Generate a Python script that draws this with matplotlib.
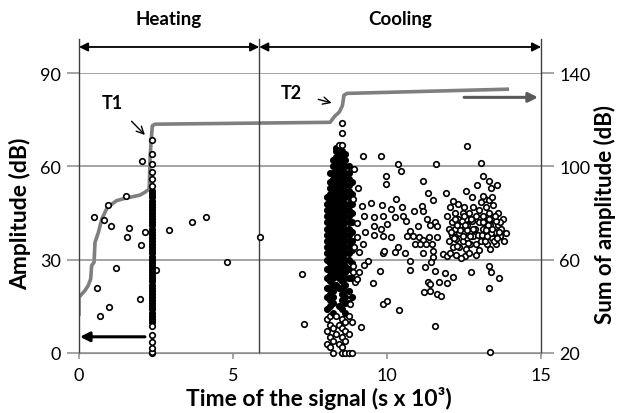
import numpy as np
import matplotlib
matplotlib.use("Agg")
from matplotlib import pyplot as plt

plt.rcParams['font.family'] = ['Lato', 'DejaVu Sans']

# Heating: sparse hits
heat_x = [0.50, 0.82, 0.95, 1.04, 1.52, 1.63, 1.55, 2.00, 2.14, 2.06, 1.20, 0.57, 0.98,
          0.68, 1.98, 2.92, 2.50, 3.67, 4.12, 4.80, 5.88]
heat_amp = [43.6, 42.7, 47.5, 40.7, 50.6, 40.2, 37.2, 34.8, 38.8, 61.6, 27.3, 20.8, 14.9,
            11.8, 17.4, 39.7, 26.8, 42.2, 43.6, 29.1, 37.2]

# Heating: column of hits at T1
heat_col_x = 2.36
heat_col_amp = [0, 0.4, 1.6, 3.6, 5.8, 8.8, 10, 11, 12, 13, 14, 15, 16, 17, 18, 19, 20,
                21, 22, 23, 24, 25, 26, 27, 28, 29, 30, 31, 32, 33, 34, 35, 36, 37, 38,
                39, 40, 41, 42, 43, 44, 45, 46, 47, 48, 49, 50, 51, 52, 53.7, 56, 58.2,
                60.7, 64, 68.6]

# Cooling: column of hits at T2 (sub-columns)
cool_col_x = [8.05, 8.15, 8.25, 8.35, 8.45, 8.55, 8.65, 8.75, 8.85]
cool_col_amp = [
    [3, 7, 11, 14, 18, 21, 24, 27, 30, 32, 34, 36, 38, 40, 42, 44, 46, 48, 50],
    [2, 5, 9, 12, 15, 17, 19, 21, 23, 25, 27, 29, 31, 33, 35, 37, 39, 41, 43, 45, 47, 49,
     51, 53, 55, 58],
    [0, 4, 8, 13, 16, 18, 20, 22, 24, 26, 28, 30, 32, 34, 36, 38, 40, 42, 44, 46, 48, 50,
     52, 54, 56, 58, 60, 62],
    [6, 12, 22, 25, 27, 29, 31, 33, 35, 37, 39, 41, 43, 45, 47, 49, 51, 53, 55, 57, 59, 61,
     63, 65, 66],
    [3, 9, 15, 21, 24, 26, 28, 30, 32, 34, 36, 38, 40, 42, 44, 46, 48, 50, 52, 54, 56, 58,
     60, 62, 64, 67],
    [0, 2, 5, 8, 11, 14, 17, 19, 21, 23, 25, 27, 29, 31, 33, 35, 37, 39, 41, 43, 45, 47, 49,
     51, 53, 55, 57, 59, 61, 63, 65, 67, 70.7, 74],
    [0, 4, 7, 10, 13, 16, 18, 20, 22, 24, 26, 28, 30, 32, 34, 36, 38, 40, 42, 44, 46, 48,
     50, 52, 54, 56, 58, 60, 62, 64],
    [0, 6, 12, 16, 20, 24, 27, 30, 32, 34, 36, 38, 40, 42, 44, 46, 48, 50, 52, 54, 56, 58,
     60],
    [0, 10, 18, 24, 29, 33, 36, 39, 42, 45, 48, 51, 55],
]

# Cooling: scattered hits after T2
cool_x = [7.23, 7.30, 9.21, 9.81, 8.94, 9.97, 9.97, 9.05, 8.90, 9.20, 9.47, 9.83, 9.26,
          9.56, 9.88, 9.02, 9.59, 9.80, 9.29, 9.56, 9.03, 9.86, 9.23, 8.93, 9.10, 9.86,
          9.39, 9.25, 8.90, 8.90, 9.09, 8.96, 9.77, 9.53, 9.02, 9.88, 9.99, 9.15, 8.80,
          10.34, 10.44, 11.59, 12.61, 11.18, 11.32, 11.48, 11.92, 12.56, 10.29, 10.12,
          10.48, 10.89, 11.12, 11.18, 9.99, 10.26, 10.51, 10.62, 11.00, 11.29, 11.40,
          11.54, 11.61, 10.73, 10.84, 10.64, 10.13, 11.05, 11.16, 11.37, 11.61, 10.91,
          11.07, 11.27, 11.45, 10.37, 9.90, 10.26, 10.58, 11.18, 11.50, 11.50, 11.83,
          11.93, 10.73, 10.75, 11.23, 11.43, 11.56, 11.88, 12.13, 11.67, 11.93, 11.32,
          11.40, 11.21, 11.40, 11.63, 11.75, 10.39, 11.56, 13.04, 13.13, 12.93, 13.32,
          13.36, 13.56, 13.18, 13.32, 13.04, 12.89, 12.53, 12.72, 13.32, 13.36, 13.63,
          13.32, 13.34]
cool_amp = [25.4, 9.3, 63.2, 63.2, 59.1, 57.0, 54.3, 52.9, 49.5, 47.3, 48.1, 47.6, 43.9,
            43.6, 44.1, 41.8, 40.9, 39.9, 38.8, 37.9, 37.3, 37.7, 35.0, 34.0, 32.4, 32.3,
            29.7, 28.3, 28.0, 26.0, 26.0, 22.8, 26.5, 22.5, 23.8, 15.7, 16.8, 8.3, 15.7,
            60.8, 58.6, 60.8, 66.6, 55.4, 51.3, 49.3, 51.6, 52.2, 49.5, 46.3, 46.8, 45.7,
            47.3, 45.7, 41.5, 43.6, 43.9, 42.5, 40.9, 43.1, 41.1, 42.0, 40.9, 39.3, 37.5,
            37.7, 37.2, 37.2, 36.4, 37.2, 37.2, 35.0, 35.0, 35.0, 35.0, 34.0, 32.9, 32.4,
            32.1, 32.1, 32.9, 30.8, 31.8, 31.3, 29.7, 26.8, 27.5, 29.1, 26.3, 25.7, 24.3,
            22.9, 22.5, 22.7, 22.2, 19.5, 20.0, 19.0, 18.2, 13.9, 8.8, 61.1, 57.0, 54.0,
            55.4, 53.2, 54.0, 49.5, 49.3, 48.4, 31.5, 31.3, 25.9, 27.9, 26.1, 24.1, 20.8,
            0.4]

# Cooling: cluster between 12 and 14 x 10^3 s
clus_x = [11.95, 12.0, 12.0, 12.05, 12.1, 12.1, 12.15, 12.2, 12.2, 12.25, 12.3, 12.3,
          12.35, 12.35, 12.4, 12.45, 12.45, 12.5, 12.5, 12.55, 12.55, 12.6, 12.6, 12.65,
          12.7, 12.7, 12.75, 12.8, 12.8, 12.85, 12.9, 12.9, 12.95, 13.0, 13.0, 13.05,
          13.1, 13.1, 13.15, 13.2, 13.2, 13.25, 13.3, 13.3, 13.35, 13.4, 13.45, 13.45,
          13.5, 13.55, 13.6, 13.6, 13.65, 13.7, 13.75, 13.8, 13.85, 12.05, 12.25, 12.4,
          12.65, 13.0, 13.35, 12.15, 12.75, 13.1, 13.4,
          12.08, 12.18, 12.28, 12.38, 12.48, 12.58, 12.68, 12.78, 12.28, 12.42, 12.52,
          12.62, 12.72, 13.08, 13.18, 13.28, 13.38, 13.48, 13.58, 13.68, 13.12, 13.22,
          13.32, 13.42, 13.52, 13.62, 12.22, 12.5, 13.25, 13.5]
clus_amp = [44, 40, 36, 47, 42, 38, 34, 45, 40, 36.5, 43, 48, 38.5, 34, 41, 45, 36, 39,
            47, 43, 33.5, 37, 41, 45, 39, 35, 42.5, 47, 37.5, 40, 44, 35, 38, 42, 46, 36,
            40, 44, 38, 47, 42, 35, 39, 45, 41, 37, 43, 47.5, 39, 35, 41, 45, 37.5, 40,
            43, 36, 38.5, 32, 31.5, 30.5, 32, 33, 33.5, 49, 50, 50.5, 50,
            39, 37, 41, 39.5, 37.5, 39.5, 37.5, 40, 34.5, 42.5, 41, 35.5, 43, 38, 36,
            41, 38.5, 36, 37, 42, 42, 39.5, 43, 40, 42.5, 39, 43, 44, 37.5, 44]

# Sum of amplitude (right axis)
cum_x = [0.0, 0.0, 0.19, 0.30, 0.38, 0.41, 0.49, 0.52, 0.63, 0.74, 0.79, 0.92, 1.22,
         1.49, 1.98, 2.14, 2.28, 2.31, 2.34, 2.38, 2.47, 8.15, 8.30, 8.45, 8.55, 8.60,
         8.70, 13.90]
cum_db = [36.7, 43.9, 46.7, 48.9, 51.7, 57.4, 58.9, 67.4, 71.7, 77.4, 78.8, 82.4, 85.3,
          86.3, 87.7, 88.9, 90.3, 104.6, 110.3, 117.4, 118.1, 118.9, 121.5, 123.3, 126.0,
          130.5, 131.3, 133.1]

x_split = 5.85
grid_c = '#8c8c8c'

fig = plt.figure(figsize=(6.17, 4.14), dpi=100)
ax = fig.add_axes([0.128, 0.145, 0.749, 0.676])
ax2 = ax.twinx()
ax.set_zorder(ax2.get_zorder() + 1)
ax.patch.set_visible(False)

# hits: open circles; where hits pile up they print as a solid band
mk = dict(linestyle='none', marker='o', markersize=4.0, markerfacecolor='white',
          markeredgecolor='black', markeredgewidth=1.2, clip_on=False, zorder=4)
mk_dense = dict(mk, markersize=3.2, markeredgewidth=1.9, markerfacecolor='black')


def plot_column(cx, ys, lo, hi):
    ys = np.asarray(ys, dtype=float)
    inside = (ys >= lo) & (ys <= hi)
    ax.plot(np.full(inside.sum(), cx), ys[inside], **mk_dense)
    ax.plot(np.full((~inside).sum(), cx), ys[~inside], **mk)


ax.plot(heat_x, heat_amp, **mk)
plot_column(heat_col_x, heat_col_amp, 10, 52)
for cx, ys in zip(cool_col_x, cool_col_amp):
    plot_column(cx, ys, 13, 66)
ax.plot(cool_x, cool_amp, **mk)
ax.plot(clus_x, clus_amp, **mk)

# cumulative line
ax2.plot(cum_x, cum_db, color='#7f7f7f', lw=2.6, solid_joinstyle='round', zorder=3)

ax.set_xlim(0, 15)
ax.set_ylim(0, 90)
ax2.set_ylim(20, 140)
ax.set_xticks([0, 5, 10, 15])
ax.set_yticks([0, 30, 60, 90])
ax2.set_yticks([20, 60, 100, 140])

ax.grid(axis='y', color=grid_c, lw=1.1)
ax.set_axisbelow(True)
for a in (ax, ax2):
    for s in ['top', 'left', 'right']:
        a.spines[s].set_visible(False)
ax.spines['bottom'].set_color(grid_c)
ax2.spines['bottom'].set_visible(False)

ax.tick_params(axis='y', length=9, color=grid_c, width=1.1, labelsize=13, pad=4)
ax.tick_params(axis='x', length=4, color=grid_c, width=1.1, labelsize=13, pad=6)
ax2.tick_params(axis='y', length=9, color=grid_c, width=1.1, labelsize=13, pad=4)

# bracket lines and phase arrows
top = 100.9
for xv in [0, x_split, 15]:
    ax.plot([xv, xv], [0, top], color='#404040', lw=1.0, clip_on=False, zorder=2)
arr = dict(arrowstyle='<|-|>', color='black', lw=1.3, shrinkA=0, shrinkB=0,
           mutation_scale=13)
ax.annotate('', xy=(0, 98.4), xytext=(x_split, 98.4), arrowprops=arr,
            annotation_clip=False)
ax.annotate('', xy=(x_split, 98.4), xytext=(15, 98.4), arrowprops=arr,
            annotation_clip=False)
ax.text(2.92, 107.5, 'Heating', ha='center', va='center', fontsize=13.5,
        fontweight='bold')
ax.text(10.42, 107.5, 'Cooling', ha='center', va='center', fontsize=13.5,
        fontweight='bold')

# axis pointers
ax.annotate('', xy=(0.03, 5.2), xytext=(2.14, 5.2), annotation_clip=False,
            arrowprops=dict(arrowstyle='-|>', color='black', lw=2.2, shrinkA=0,
                            shrinkB=0, mutation_scale=14))
ax2.annotate('', xy=(14.9, 129.6), xytext=(12.5, 129.6), annotation_clip=False,
             arrowprops=dict(arrowstyle='-|>', color='#595959', lw=2.2, shrinkA=0,
                             shrinkB=0, mutation_scale=14))

# T1 / T2 markers
ax.annotate('T1', xy=(2.14, 70.1), xytext=(1.1, 80.7), ha='center', va='center',
            fontsize=13, fontweight='bold',
            arrowprops=dict(arrowstyle='->', color='black', lw=1.0, shrinkA=8, shrinkB=0))
ax.annotate('T2', xy=(8.2, 80.4), xytext=(6.9, 83.9), ha='center', va='center',
            fontsize=13, fontweight='bold',
            arrowprops=dict(arrowstyle='->', color='black', lw=1.0, shrinkA=10, shrinkB=0))

ax.set_xlabel('Time of the signal (s x 10³)', fontsize=16.5, fontweight='bold')
ax.set_ylabel('Amplitude (dB)', fontsize=16.5, fontweight='bold')
ax2.set_ylabel('Sum of amplitude (dB)', fontsize=16, fontweight='bold')
ax.xaxis.set_label_coords(0.52, -0.118)
ax.yaxis.set_label_coords(-0.104, 0.5)
ax2.yaxis.set_label_coords(1.115, 0.5)

fig.savefig('out.png', dpi=100)
